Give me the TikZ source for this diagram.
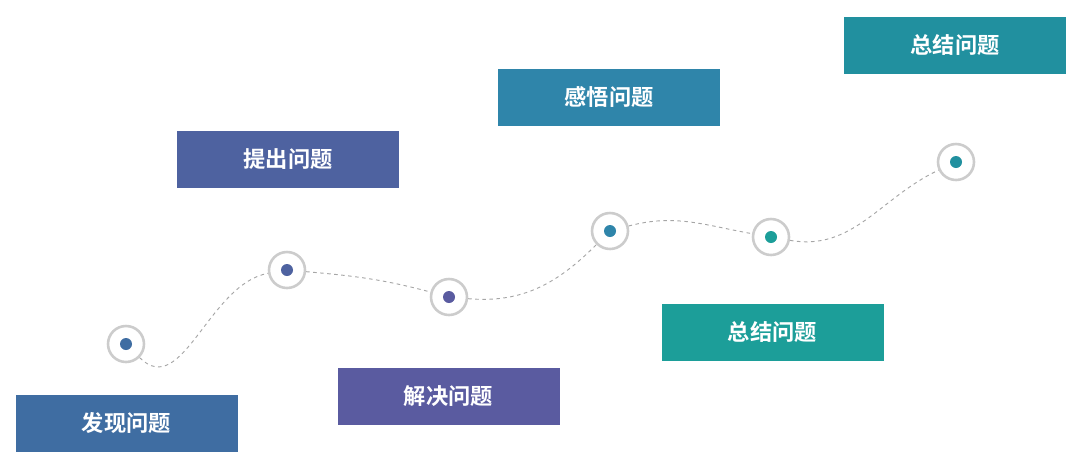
\documentclass[tikz,border=0pt]{standalone}
\usepackage{fontspec}
\newfontfamily\cjk{Noto Sans CJK SC}[BoldFont={Noto Sans CJK SC Bold}]
\begin{document}
\begin{tikzpicture}[x=0.03cm,y=-0.03cm,
  lbl/.style={minimum width=222*0.03cm,minimum height=57*0.03cm,inner sep=0pt,text=white,font=\cjk\bfseries\fontsize{19}{22}\selectfont},
  ring/.style={circle,draw=black!20,line width=2.2pt,fill=white,minimum size=36*0.03cm,inner sep=0pt},
  dotc/.style={circle,minimum size=12*0.03cm,inner sep=0pt},
  path/.style={draw=black!35,dashed,line width=0.8pt}]
\useasboundingbox (0,0) rectangle (1080,467);
\definecolor{c1}{HTML}{3F6DA2}
\definecolor{c2}{HTML}{4E62A0}
\definecolor{c3}{HTML}{5A5BA0}
\definecolor{c4}{HTML}{2F85AA}
\definecolor{c5}{HTML}{1C9E99}
\definecolor{c6}{HTML}{21909F}
\node[lbl,fill=c1] (b1) at (126.5,423) {发现问题};
\node[lbl,fill=c2] (b2) at (288,159.5) {提出问题};
\node[lbl,fill=c3] (b3) at (448.5,396.5) {解决问题};
\node[lbl,fill=c4] (b4) at (609,97) {感悟问题};
\node[lbl,fill=c5] (b5) at (772.5,332) {总结问题};
\node[lbl,fill=c6] (b6) at (955,45) {总结问题};
\node[ring] (r1) at (126,344) {};
\node[ring] (r2) at (287,270) {};
\node[ring] (r3) at (449,297) {};
\node[ring] (r4) at (610,231) {};
\node[ring] (r5) at (771,237) {};
\node[ring] (r6) at (956,162) {};
\node[dotc,fill=c1] (d1) at (r1) {};
\node[dotc,fill=c2] (d2) at (r2) {};
\node[dotc,fill=c3] (d3) at (r3) {};
\node[dotc,fill=c4] (d4) at (r4) {};
\node[dotc,fill=c5] (d5) at (r5) {};
\node[dotc,fill=c6] (d6) at (r6) {};
\path[path] (r1) to[out=-45,in=190] (r2);
\path[path] (r2) to[out=-5,in=165] (r3);
\path[path] (r3) to[out=-5,in=-135] (r4);
\path[path] (r4) to[out=15,in=170] (r5);
\path[path] (r5) to[out=-10,in=-155] (r6);
\end{tikzpicture}
\end{document}
